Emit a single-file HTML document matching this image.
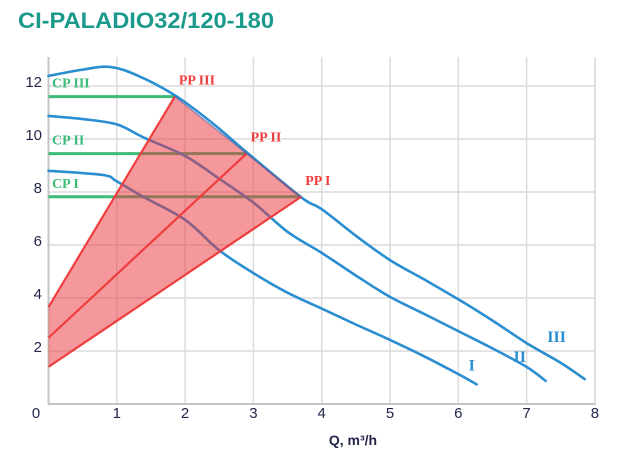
<!DOCTYPE html>
<html><head><meta charset="utf-8"><style>
body{margin:0;background:#fff;width:621px;height:463px;overflow:hidden}
svg{display:block}
</style></head><body>
<svg id="chart" width="621" height="463" xmlns="http://www.w3.org/2000/svg">
<text x="18" y="28" font-family="Liberation Sans Narrow, Liberation Sans, sans-serif" font-weight="bold" font-size="22" fill="#1b9a8c" textLength="256" lengthAdjust="spacingAndGlyphs">CI-PALADIO32/120-180</text>
<g id="grid"></g>
<g id="marks"></g>
<g id="labels"></g>
<text x="353" y="445" font-family="Liberation Sans, sans-serif" font-weight="bold" font-size="14" fill="#23264a" text-anchor="middle">Q, m³/h</text>
</svg>
<script>
const xTicks=[0,1,2,3,4,5,6,7,8];
const yTicks=[0,2,4,6,8,10,12];
const curveIII=[[0,12.38],[0.5,12.62],[0.9,12.72],[1.3,12.4],[1.85,11.65],[2.4,10.6],[2.9,9.5],[3.7,7.8],[4,7.35],[4.5,6.35],[5,5.43],[5.5,4.7],[6,3.95],[6.5,3.15],[7,2.3],[7.5,1.55],[7.85,0.94]];
const curveII=[[0,10.87],[0.5,10.75],[1,10.55],[1.4,10.05],[2,9.36],[2.5,8.5],[3,7.6],[3.5,6.5],[4,5.7],[4.5,4.85],[5,4.04],[5.5,3.4],[6,2.75],[6.5,2.1],[7,1.4],[7.28,0.87]];
const curveI=[[0,8.8],[0.8,8.64],[1,8.4],[1.4,7.8],[2,6.95],[2.5,5.8],[3,4.94],[3.5,4.2],[4,3.6],[4.5,3.0],[5,2.42],[5.5,1.8],[6,1.13],[6.27,0.74]];
const ppPoints=[[1.85,11.6],[2.9,9.45],[3.7,7.82]];
const ppStartH=[3.66,2.5,1.4];
const ppNames=["PP III","PP II","PP I"];
const cpNames=["CP III","CP II","CP I"];
const curveNames=["III","II","I"];
const X=q=>48.5+q*68.3, Y=h=>404-h*26.5;
const NS="http://www.w3.org/2000/svg";
function mk(tag,attrs,parent,txt){const e=document.createElementNS(NS,tag);for(const k in attrs)e.setAttribute(k,attrs[k]);if(txt!=null)e.textContent=txt;document.getElementById(parent).appendChild(e);return e;}
function smooth(c){const p=c.map(q=>[X(q[0]),Y(q[1])]);let d='M'+p[0][0].toFixed(1)+','+p[0][1].toFixed(1);
 for(let i=0;i<p.length-1;i++){const p0=p[Math.max(0,i-1)],p1=p[i],p2=p[i+1],p3=p[Math.min(p.length-1,i+2)];
  const c1=[p1[0]+(p2[0]-p0[0])/6,p1[1]+(p2[1]-p0[1])/6],c2=[p2[0]-(p3[0]-p1[0])/6,p2[1]-(p3[1]-p1[1])/6];
  d+='C'+c1.map(v=>v.toFixed(1)).join(',')+' '+c2.map(v=>v.toFixed(1)).join(',')+' '+p2.map(v=>v.toFixed(1)).join(',');}
 return d;}
xTicks.forEach(t=>{if(t>0){const l=mk('line',{x1:X(t),x2:X(t),y1:57,y2:404,stroke:'#dcdcdc','stroke-width':1.5},'grid');}
 const tx=mk('text',{x:t==0?36:X(t),y:418,'font-family':'Liberation Sans, sans-serif','font-size':15,fill:'#23264a','text-anchor':'middle'},'labels',t);});
yTicks.forEach(t=>{if(t>0){const l=mk('line',{x1:48.5,x2:595,y1:Y(t),y2:Y(t),stroke:'#dcdcdc','stroke-width':1.5},'grid');
 const tx=mk('text',{x:42,y:Y(t)+1,'font-family':'Liberation Sans, sans-serif','font-size':15,fill:'#23264a','text-anchor':'end'},'labels',t);}});
let a=mk('line',{x1:48.5,x2:48.5,y1:57,y2:405,stroke:'#c4c4c4','stroke-width':2},'grid');
a=mk('line',{x1:48,x2:596,y1:404,y2:404,stroke:'#c4c4c4','stroke-width':2},'grid');
a=mk('line',{x1:595,x2:595,y1:57,y2:404,stroke:'#dcdcdc','stroke-width':1.5},'grid');
ppPoints.forEach((p,i)=>{const l=mk('line',{x1:48.5,x2:X(p[0]),y1:Y(p[1]),y2:Y(p[1]),stroke:'#3dbb78','stroke-width':3},'marks');});
[curveIII,curveII,curveI].forEach((c,i)=>{
 const e=mk('path',{d:smooth(c),fill:'none',stroke:'#2a8ed0','stroke-width':2.6,'stroke-linejoin':'round','stroke-linecap':'round'},'marks');});
const pts=[[0,ppStartH[0]],ppPoints[0],ppPoints[2],[0,ppStartH[2]]].map(p=>X(p[0])+','+Y(p[1])).join(' ');
a=mk('polygon',{points:pts,fill:'rgba(235,50,55,0.5)',stroke:'none'},'marks');
ppPoints.forEach((p,i)=>{const l=mk('line',{x1:X(0),y1:Y(ppStartH[i]),x2:X(p[0]),y2:Y(p[1]),stroke:'#ee3d3d','stroke-width':2.2},'marks');});
a=mk('line',{x1:X(ppPoints[0][0]),y1:Y(ppPoints[0][1]),x2:X(ppPoints[2][0]),y2:Y(ppPoints[2][1]),stroke:'#5a5fa0','stroke-width':1.5,'stroke-opacity':0.6},'marks');
const serif='Liberation Serif, serif';
ppPoints.forEach((p,i)=>{let t=mk('text',{x:X(p[0])+4,y:Y(p[1])-12,'font-family':serif,'font-weight':'bold','font-size':14,fill:'#ee3d3d'},'labels',ppNames[i]);
 t=mk('text',{x:52,y:Y(p[1])-9,'font-family':serif,'font-weight':'bold','font-size':14,fill:'#3dbb78'},'labels',cpNames[i]);});
[curveIII,curveII,curveI].forEach((c,i)=>{const e=c[c.length-1];const t=mk('text',{x:X(e[0])-(i==0?28:i==1?26:5),y:Y(e[1])-(i==0?37:i==1?19:14),'font-family':serif,'font-weight':'bold','font-size':16,fill:'#2a8ed0','text-anchor':'middle'},'labels',curveNames[i]);});
</script>
</body></html>
